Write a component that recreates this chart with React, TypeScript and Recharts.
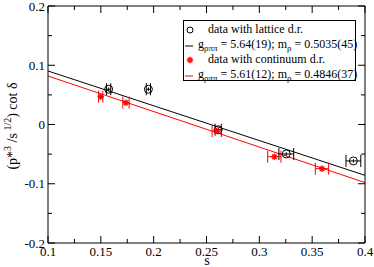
import { ComposedChart, Scatter, Line, XAxis, YAxis, ErrorBar, Legend } from 'recharts'

type Pt = { s: number; v: number; ex: number; ey: number }

// data with lattice dispersion relation
const lattice: Pt[] = [
  { s: 0.1574, v: 0.0595, ex: 0.002, ey: 0.003 },
  { s: 0.195, v: 0.0595, ex: 0.002, ey: 0.003 },
  { s: 0.2611, v: -0.0088, ex: 0.003, ey: 0.003 },
  { s: 0.3255, v: -0.0498, ex: 0.007, ey: 0.003 },
  { s: 0.389, v: -0.0615, ex: 0.007, ey: 0.003 },
]

// data with continuum dispersion relation
const continuum: Pt[] = [
  { s: 0.1499, v: 0.047, ex: 0.002, ey: 0.002 },
  { s: 0.1738, v: 0.0368, ex: 0.003, ey: 0.002 },
  { s: 0.2597, v: -0.011, ex: 0.0044, ey: 0.002 },
  { s: 0.3142, v: -0.0543, ex: 0.0063, ey: 0.002 },
  { s: 0.3593, v: -0.0746, ex: 0.0063, ey: 0.002 },
]

// fit lines (end points)
const latticeFit = [ { s: 0.1, v: 0.0903 }, { s: 0.4, v: -0.0858 } ]
const continuumFit = [ { s: 0.1, v: 0.0818 }, { s: 0.4, v: -0.098 } ]

const xTicks = [0.1, 0.125, 0.15, 0.175, 0.2, 0.225, 0.25, 0.275, 0.3, 0.325, 0.35, 0.375, 0.4]
const yTicks = [-0.2, -0.15, -0.1, -0.05, 0, 0.05, 0.1, 0.15, 0.2]

const FONT = '"Liberation Serif", "Times New Roman", serif'
const RED = '#ff0000'

const isMajor = (v: number, step: number) => Math.abs(v / step - Math.round(v / step)) < 1e-6
const fmt = (v: number) => String(Number(v.toFixed(3)))

const XTick = (p: any) => {
  const { x, y, payload, top } = p
  const major = isMajor(payload.value, 0.05)
  const len = major ? 7 : 4
  return (
    <g>
      <line x1={x} x2={x} y1={y} y2={top ? y + len : y - len} stroke="#000" />
      {!top && major && (
        <text x={x} y={y + 13} textAnchor="middle" fontFamily={FONT} fontSize={13} fill="#000">{fmt(payload.value)}</text>
      )}
    </g>
  )
}

const YTick = (p: any) => {
  const { x, y, payload, right } = p
  const major = isMajor(payload.value, 0.1)
  const len = major ? 7 : 4
  return (
    <g>
      <line x1={x} x2={right ? x - len : x + len} y1={y} y2={y} stroke="#000" />
      {!right && major && (
        <text x={x - 3} y={y + 4.5} textAnchor="end" fontFamily={FONT} fontSize={13} fill="#000">{fmt(payload.value)}</text>
      )}
    </g>
  )
}

const Circle = (p: any) => <circle cx={p.cx} cy={p.cy} r={4} fill="none" stroke="#000" strokeWidth={1} />

const Star = (p: any) => {
  const { cx, cy } = p
  const r = 3.2
  const d = r * 0.7
  return (
    <g stroke={RED} strokeWidth={1.4}>
      <line x1={cx - r} x2={cx + r} y1={cy} y2={cy} />
      <line x1={cx} x2={cx} y1={cy - r} y2={cy + r} />
      <line x1={cx - d} x2={cx + d} y1={cy - d} y2={cy + d} />
      <line x1={cx - d} x2={cx + d} y1={cy + d} y2={cy - d} />
    </g>
  )
}

const sub = { fontSize: 9, position: 'relative' as const, top: 3 }

const LegendBox = () => {
  const row = { display: 'flex', alignItems: 'center', height: 15, whiteSpace: 'nowrap' as const }
  const sym = { width: 24, display: 'flex', justifyContent: 'flex-start' }
  return (
    <div style={{ boxSizing: 'border-box', width: 173, height: 61, border: '1px solid #000', background: '#fff',
      fontFamily: FONT, fontSize: 12, color: '#000', paddingTop: 1, lineHeight: '15px' }}>
      <div style={row}>
        <span style={sym}><svg width={14} height={10}><circle cx={6} cy={5} r={3} fill="none" stroke="#000" /></svg></span>
        <span>data with lattice d.r.</span>
      </div>
      <div style={row}>
        <span style={sym}><svg width={14} height={10}><line x1={1} x2={9} y1={6} y2={6} stroke="#000" /></svg></span>
        <span>g<span style={sub}>ρππ</span> = 5.64(19); m<span style={sub}>ρ</span> = 0.5035(45)</span>
      </div>
      <div style={row}>
        <span style={sym}><svg width={14} height={10}><Star cx={6} cy={5} /></svg></span>
        <span>data with continuum d.r.</span>
      </div>
      <div style={row}>
        <span style={sym}><svg width={14} height={10}><line x1={1} x2={9} y1={6} y2={6} stroke={RED} /></svg></span>
        <span>g<span style={sub}>ρππ</span> = 5.61(12); m<span style={sub}>ρ</span> = 0.4846(37)</span>
      </div>
    </div>
  )
}

const YLabel = () => (
  <text transform="translate(17,126) rotate(-90)" textAnchor="middle" fontFamily={FONT} fontSize={14} fill="#000">
    (p*<tspan dy={-6} fontSize={10}>3</tspan><tspan dy={6}> /s</tspan><tspan dy={-6} fontSize={10}> 1/2</tspan><tspan dy={6}>) cot δ</tspan>
  </text>
)

const XLabel = () => (
  <text x={207} y={265} textAnchor="middle" fontFamily={FONT} fontSize={14} fill="#000">s</text>
)

export default function App() {
  return (
    <div style={{ position: 'absolute', left: 0, top: 0, background: '#fff' }}>
      <ComposedChart width={374} height={267} margin={{ top: 5, right: 8, bottom: 23, left: 47 }}>
        <XAxis xAxisId="b" type="number" dataKey="s" domain={[0.1, 0.4]} ticks={xTicks} allowDataOverflow
          height={1} tickSize={0} tickMargin={0} axisLine={{ stroke: '#000' }} tickLine={false} tick={<XTick />} interval={0}
          label={{ content: () => <XLabel /> }} />
        <XAxis xAxisId="t" orientation="top" type="number" dataKey="s" domain={[0.1, 0.4]} ticks={xTicks} allowDataOverflow
          height={1} tickSize={0} tickMargin={0} axisLine={{ stroke: '#000' }} tickLine={false} tick={<XTick top />} interval={0} />
        <YAxis yAxisId="l" type="number" domain={[-0.2, 0.2]} ticks={yTicks} allowDataOverflow
          width={1} tickSize={0} tickMargin={0} axisLine={{ stroke: '#000' }} tickLine={false} tick={<YTick />} interval={0}
          label={{ content: () => <YLabel /> }} />
        <YAxis yAxisId="r" orientation="right" type="number" domain={[-0.2, 0.2]} ticks={yTicks} allowDataOverflow
          width={1} tickSize={0} tickMargin={0} axisLine={{ stroke: '#000' }} tickLine={false} tick={<YTick right />} interval={0} />
        <Line xAxisId="b" yAxisId="l" data={latticeFit} dataKey="v" stroke="#000" strokeWidth={1} dot={false} isAnimationActive={false} />
        <Line xAxisId="b" yAxisId="l" data={continuumFit} dataKey="v" stroke={RED} strokeWidth={1} dot={false} isAnimationActive={false} />
        <Scatter xAxisId="b" yAxisId="l" data={lattice} dataKey="v" shape={<Circle />} isAnimationActive={false}>
          <ErrorBar dataKey="ex" direction="x" width={6} stroke="#000" strokeWidth={1} />
          <ErrorBar dataKey="ey" direction="y" width={0} stroke="#000" strokeWidth={1} />
        </Scatter>
        <Scatter xAxisId="b" yAxisId="l" data={continuum} dataKey="v" shape={<Star />} isAnimationActive={false}>
          <ErrorBar dataKey="ex" direction="x" width={6} stroke={RED} strokeWidth={1} />
        </Scatter>
        <Legend layout="vertical" align="center" verticalAlign="middle" content={() => <LegendBox />}
          wrapperStyle={{ position: 'absolute', left: 183, top: 20, width: 173, height: 61 }} />
      </ComposedChart>
    </div>
  )
}
